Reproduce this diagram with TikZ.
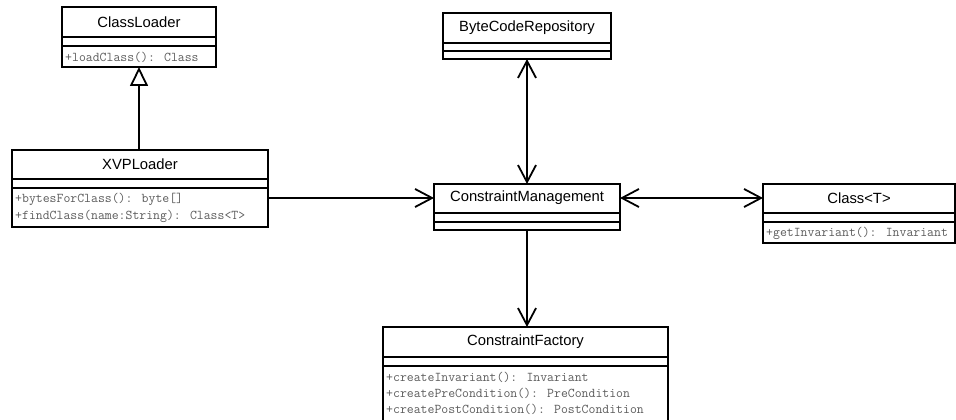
\documentclass[tikz,border=0pt]{standalone}
\usepackage{fontspec}
\setsansfont{Liberation Sans}
\usetikzlibrary{arrows.meta}
\definecolor{methodgray}{HTML}{5C5C5C}

\tikzset{
  classbox/.style={draw, line width=1.8pt, anchor=north west, inner sep=0pt,
    outer sep=0pt, fill=white},
  sepline/.style={line width=1.8pt},
  titletext/.style={inner sep=0pt, font=\sffamily\fontsize{14.8}{17}\selectfont},
  methodtext/.style={inner sep=0pt, anchor=west, text=methodgray,
    font=\ttfamily\fontsize{13.4}{15}\selectfont},
  link/.style={line width=1.8pt},
  navarrow/.style={link, -{Straight Barb[length=17pt,width=18pt]}},
  twoway/.style={link, {Straight Barb[length=17pt,width=18pt]}-{Straight Barb[length=17pt,width=18pt]}},
  inherit/.style={link, -{Triangle[open,length=19pt,width=18pt]}},
}

\begin{document}
\begin{tikzpicture}[x=1pt,y=-1pt]
\useasboundingbox (0,0) rectangle (956,420);

% ---- ClassLoader
\node[classbox, minimum width=154pt, minimum height=60pt] (cl) at (62,7) {};
\draw[sepline] ([yshift=-30pt]cl.north west) -- ([yshift=-30pt]cl.north east);
\draw[sepline] ([yshift=-39pt]cl.north west) -- ([yshift=-39pt]cl.north east);
\node[titletext] (clt) at ([yshift=-15pt]cl.north) {ClassLoader};
\node[methodtext] (clm1) at ([xshift=3pt,yshift=-50pt]cl.north west) {+loadClass(): Class};

% ---- XVPLoader
\node[classbox, minimum width=256pt, minimum height=77pt] (xvp) at (12,150) {};
\draw[sepline] ([yshift=-29pt]xvp.north west) -- ([yshift=-29pt]xvp.north east);
\draw[sepline] ([yshift=-38pt]xvp.north west) -- ([yshift=-38pt]xvp.north east);
\node[titletext] (xvpt) at ([yshift=-14.5pt]xvp.north) {XVPLoader};
\node[methodtext] (xvpm1) at ([xshift=3pt,yshift=-49pt]xvp.north west) {+bytesForClass(): byte[]};
\node[methodtext] (xvpm2) at ([xshift=3pt,yshift=-66pt]xvp.north west) {+findClass(name:String): Class<T>};

% ---- ByteCodeRepository
\node[classbox, minimum width=168pt, minimum height=46pt] (bcr) at (443,13) {};
\draw[sepline] ([yshift=-30pt]bcr.north west) -- ([yshift=-30pt]bcr.north east);
\draw[sepline] ([yshift=-38pt]bcr.north west) -- ([yshift=-38pt]bcr.north east);
\node[titletext] (bcrt) at ([yshift=-15pt]bcr.north) {ByteCodeRepository};

% ---- ConstraintManagement
\node[classbox, minimum width=186pt, minimum height=46pt] (cm) at (434,184) {};
\draw[sepline] ([yshift=-29pt]cm.north west) -- ([yshift=-29pt]cm.north east);
\draw[sepline] ([yshift=-38pt]cm.north west) -- ([yshift=-38pt]cm.north east);
\node[titletext] (cmt) at ([yshift=-14pt]cm.north) {ConstraintManagement};

% ---- Class<T>
\node[classbox, minimum width=192pt, minimum height=59pt] (ct) at (763,184) {};
\draw[sepline] ([yshift=-29pt]ct.north west) -- ([yshift=-29pt]ct.north east);
\draw[sepline] ([yshift=-38pt]ct.north west) -- ([yshift=-38pt]ct.north east);
\node[titletext] (ctt) at ([yshift=-14.5pt]ct.north) {Class<T>};
\node[methodtext] (ctm1) at ([xshift=3pt,yshift=-49pt]ct.north west) {+getInvariant(): Invariant};

% ---- ConstraintFactory
\node[classbox, minimum width=285pt, minimum height=95pt] (cf) at (383,327) {};
\draw[sepline] ([yshift=-30pt]cf.north west) -- ([yshift=-30pt]cf.north east);
\draw[sepline] ([yshift=-39pt]cf.north west) -- ([yshift=-39pt]cf.north east);
\node[titletext] (cft) at ([yshift=-15pt]cf.north) {ConstraintFactory};
\node[methodtext] (cfm1) at ([xshift=3pt,yshift=-50pt]cf.north west) {+createInvariant(): Invariant};
\node[methodtext] (cfm2) at ([xshift=3pt,yshift=-66pt]cf.north west) {+createPreCondition(): PreCondition};
\node[methodtext] (cfm3) at ([xshift=3pt,yshift=-82pt]cf.north west) {+createPostCondition(): PostCondition};

% ---- relations
\draw[inherit] (cl.south |- xvp.north) -- (cl.south);
\draw[navarrow] (xvp.east |- cmt) -- (cm.west |- cmt);
\draw[twoway] (bcr.south) -- (bcr.south |- cm.north);
\draw[twoway] (cm.east |- cmt) -- (ct.west |- cmt);
\draw[navarrow] (cm.south) -- (cm.south |- cf.north);
\end{tikzpicture}
\end{document}
